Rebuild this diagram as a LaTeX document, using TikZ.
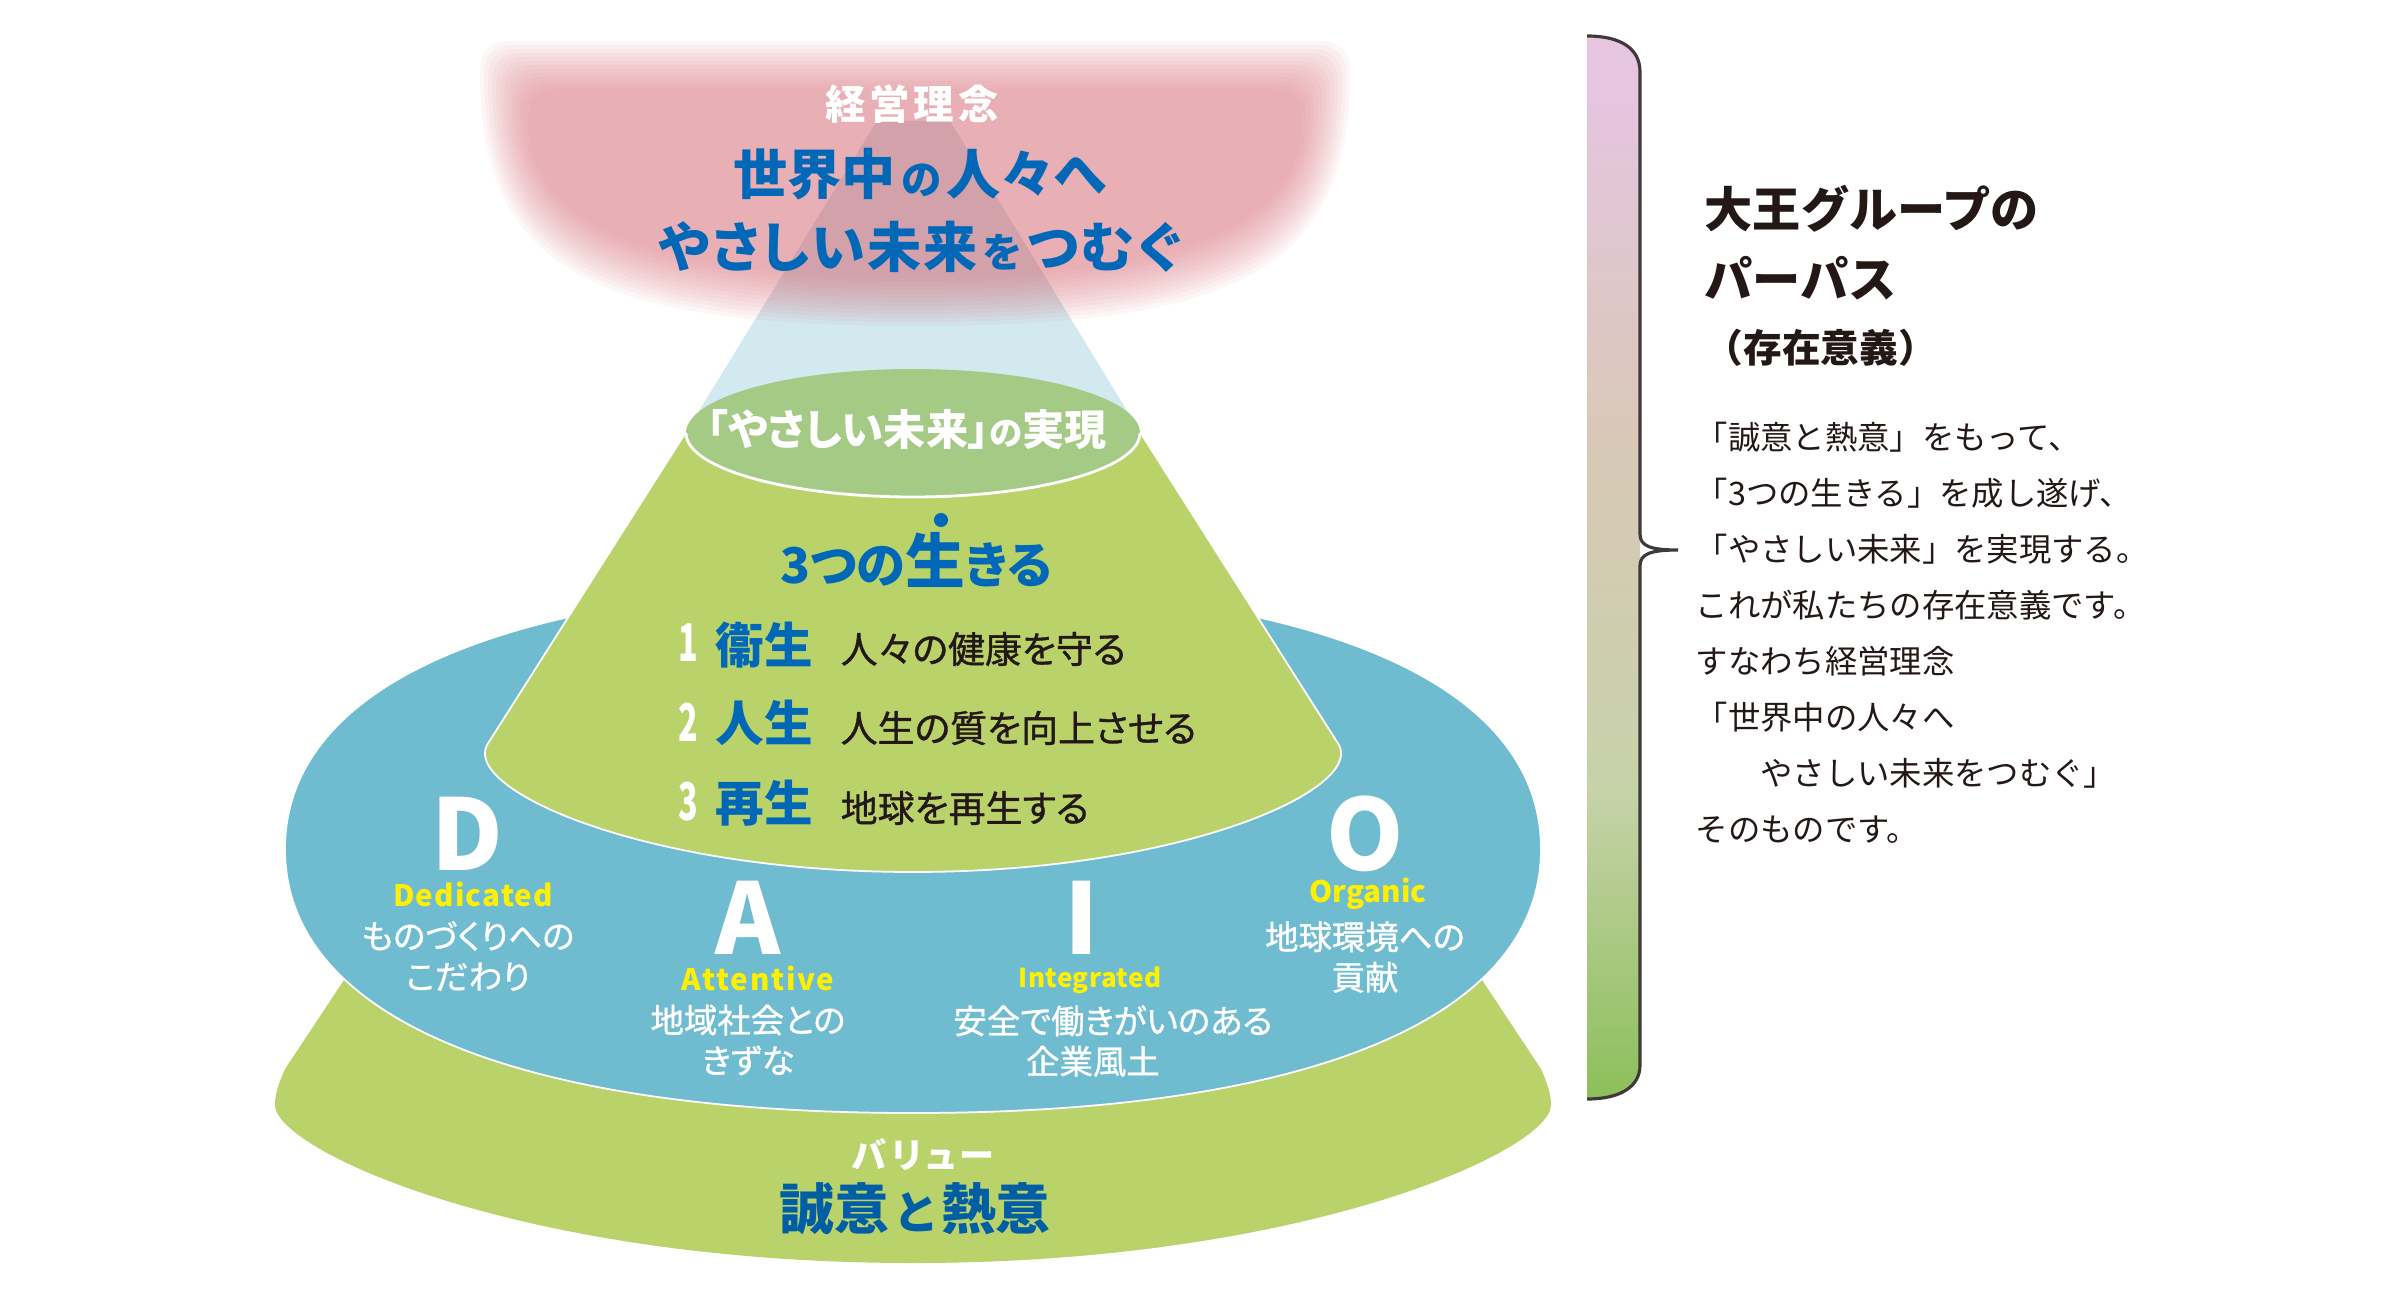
\documentclass[tikz,border=0pt]{standalone}
\usepackage{fontspec}
\usepackage{xcolor}
\setmainfont{Noto Sans CJK JP}
\newfontfamily\jpb{Noto Sans CJK JP}[RawFeature=+palt]
\newfontfamily\jpm{Noto Sans CJK JP}[RawFeature=+palt,FakeBold=1]
\definecolor{cone}{HTML}{D2E9F0}
\definecolor{pinkcap}{HTML}{D7727C}
\definecolor{leaf}{HTML}{B9D26A}
\definecolor{sea}{HTML}{6FBCD0}
\definecolor{moss}{HTML}{A5CA86}
\definecolor{ink}{HTML}{231815}
\definecolor{deep}{HTML}{0068B7}
\definecolor{lemon}{HTML}{FFF000}
\definecolor{bracket}{HTML}{3E3A39}
\definecolor{barone}{HTML}{8CBF5A}
\definecolor{bartwo}{HTML}{C6D2A8}
\definecolor{barthree}{HTML}{D9C8B8}
\definecolor{barfour}{HTML}{E5C5DF}
\pgfdeclareverticalshading{purposebar}{100bp}{
  color(0bp)=(barone);
  color(25bp)=(barone);
  color(39.4bp)=(bartwo);
  color(56.3bp)=(barthree);
  color(72bp)=(barfour);
  color(100bp)=(barfour)}
\newcommand{\sz}[1]{\fontsize{#1}{#1}\selectfont}
\begin{document}
\begin{tikzpicture}[x=0.01cm,y=-0.01cm,
headline/.style = {font=\jpb\bfseries\sz{15.4}, text=deep, inner sep=0pt},
plainline/.style = {font=\jpm\sz{10.5}, text=ink, anchor=west, inner sep=0pt},
numeral/.style = {font=\jpb\bfseries\addfontfeature{FakeStretch=0.62}\sz{14.8}, text=white, inner sep=0pt},
lifeword/.style = {font=\jpb\bfseries\sz{13.8}, text=deep, inner sep=0pt},
initial/.style = {font=\jpb\bfseries\sz{28}, text=white, inner sep=0pt},
valueword/.style = {font=\jpb\bfseries\addfontfeature{LetterSpace=4}\sz{8.4}, text=lemon, inner sep=0pt},
valuenote/.style = {font=\jpm\sz{9.5}, text=white, align=center, inner sep=0pt}]
\useasboundingbox (0,0) rectangle (2400,1300);

\fill[cone] (877,121) -- (950,121) -- (1140,432) -- (686,432) -- cycle;
\foreach \d in {-24,-20,...,24}
  \fill[pinkcap, opacity=0.0645] ({534+\d},{65+\d}) -- ({1296-\d},{65+\d})
    .. controls ({1316-\d},{65+\d}) and ({1326-\d},{75+\d}) .. ({1326-\d},{95+\d})
    .. controls ({1326-\d},{245-\d}) and ({1215-\d},{302-\d}) .. (915,{302-\d})
    .. controls ({615+\d},{302-\d}) and ({504+\d},{245-\d}) .. ({504+\d},{95+\d})
    .. controls ({504+\d},{75+\d}) and ({514+\d},{65+\d}) .. ({534+\d},{65+\d}) -- cycle;

\fill[leaf] (344,980) -- (285,1069) .. controls (278,1085) and (275,1095) .. (275,1105)
  .. controls (275,1150) and (520,1263) .. (913,1263)
  .. controls (1306,1263) and (1551,1150) .. (1551,1105)
  .. controls (1551,1095) and (1548,1085) .. (1541,1069) -- (1482,980) -- cycle;
\draw[white, fill=sea, line width=0.5pt] (285,849) .. controls (285,681) and (514,585) .. (913,585)
  .. controls (1312,585) and (1541,681) .. (1541,849)
  .. controls (1541,1017) and (1312,1113) .. (913,1113)
  .. controls (514,1113) and (285,1017) .. (285,849) -- cycle;
\draw[white, fill=leaf, line width=0.5pt] (686,432) -- (487,745) .. controls (463,790) and (645,872) .. (913,872)
  .. controls (1181,872) and (1363,790) .. (1339,745) -- (1140,432) -- cycle;
\fill[moss] (913,433) ellipse (227 and 64);
\draw[white, line width=0.8pt] (1140,433) arc (0:180:227 and 64);

\node[font=\jpb\bfseries\addfontfeature{LetterSpace=10}\sz{11.5}, text=white, inner sep=0pt] (rinen) at (912,104) {経営理念};
\node[headline] (line1) at (920,174) {世界中\kern1.5pt{\sz{11.5}の}\kern1.5pt人々へ};
\node[headline, font=\jpb\bfseries\addfontfeature{LetterSpace=4}\sz{15.4}] (line2) at (920,247) {やさしい未来\kern1.5pt{\sz{11.5}を}\kern1.5ptつむぐ};
\node[font=\jpb\bfseries\sz{12}, text=white, inner sep=0pt] (jitsugen) at (907,430) {「やさしい未来」{\sz{9.5}の}実現};

\node[font=\jpb\bfseries\sz{14}, text=deep, inner sep=0pt] (three) at (916,560) {3つの{\sz{17}生}きる};
\node[circle, fill=deep, inner sep=0pt, minimum size=4pt] (dot) at (941,520) {};

\node[numeral] (n1) at (688,643) {1};
\node[lifeword] (eisei) at (764,645) {衞生};
\node[plainline] (t1) at (840,649) {人々の健康を守る};
\node[numeral] (n2) at (688,722) {2};
\node[lifeword] (jinsei) at (764,723) {人生};
\node[plainline] (t2) at (840,728) {人生の質を向上させる};
\node[numeral] (n3) at (688,802) {3};
\node[lifeword] (saisei) at (764,803) {再生};
\node[plainline] (t3) at (840,808) {地球を再生する};

\node[initial] (capd) at (467,834) {D};
\node[initial] (capa) at (748,918) {A};
\node[initial] (capi) at (1082,918) {I};
\node[initial] (capo) at (1365,834) {O};
\node[valueword] (wordd) at (473,894) {Dedicated};
\node[valueword, font=\jpb\bfseries\addfontfeature{LetterSpace=6}\sz{8.4}] (worda) at (758,978) {Attentive};
\node[valueword, font=\jpb\bfseries\addfontfeature{LetterSpace=2}\sz{7.4}] (wordi) at (1090,980) {Integrated};
\node[valueword, font=\jpb\bfseries\sz{8.4}] (wordo) at (1368,894) {Organic};
\node[valuenote] (noted) at (468,956) {ものづくりへの\\[2pt]こだわり};
\node[valuenote] (notea) at (748,1040) {地域社会との\\[2pt]きずな};
\node[valuenote] (notei) at (1113,1041) {安全で働きがいのある\\[2pt]\hspace*{-11.4pt}企業風土};
\node[valuenote] (noteo) at (1365,957) {地球環境への\\[2pt]貢献};

\node[font=\jpb\bfseries\addfontfeature{LetterSpace=12}\sz{10}, text=white, inner sep=0pt] (value) at (923,1155) {バリュー};
\node[font=\jpb\bfseries\sz{15.6}, text=deep!90!black, inner sep=0pt] (sincere) at (915,1209) {誠意\kern2pt{\sz{13}と}\kern2pt熱意};

\path[shading=purposebar] (1587,36) .. controls (1620,36) and (1640,48) .. (1640,72) -- (1640,1065)
  .. controls (1640,1087) and (1620,1099) .. (1587,1099) -- cycle;
\draw[bracket, line width=0.9pt] (1587,36) .. controls (1620,36) and (1640,48) .. (1640,72) -- (1640,534)
  .. controls (1640,546) and (1650,550) .. (1678,550) .. controls (1650,550) and (1640,554) .. (1640,566)
  -- (1640,1065) .. controls (1640,1087) and (1620,1099) .. (1587,1099);

\node[font=\bfseries\sz{13.7}, text=ink, anchor=west, inner sep=0pt] (group) at (1704,209) {大王グループの};
\node[font=\bfseries\sz{13.7}, text=ink, anchor=west, inner sep=0pt] (purpose) at (1704,278) {パーパス};
\node[font=\bfseries\sz{11}, text=ink, anchor=west, inner sep=0pt] (meaning) at (1704,348) {（存在意義）};
\node[font=\fontsize{9.2}{15.95}\selectfont, text=ink, anchor=north west, align=left, inner sep=0pt] (body) at (1695,421) {「誠意と熱意」をもって、\\「3つの生きる」を成し遂げ、\\「やさしい未来」を実現する。\\これが私たちの存在意義です。\\すなわち経営理念\\「世界中の人々へ\\　　やさしい未来をつむぐ」\\そのものです。};
\end{tikzpicture}
\end{document}
